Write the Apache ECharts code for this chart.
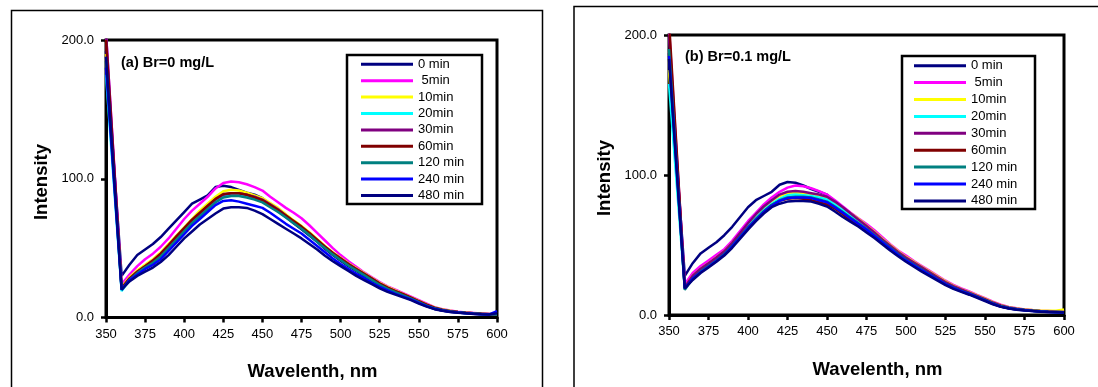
<!DOCTYPE html>
<html><head><meta charset="utf-8">
<script src="https://cdn.jsdelivr.net/npm/echarts@6/dist/echarts.min.js"></script>
<style>html,body{margin:0;padding:0;background:#fff}#c{width:1098px;height:387px}</style>
</head><body><div id="c"></div>
<script>
const wavelengths = [350,355,360,365,370,375,380,385,390,395,400,405,410,415,420,425,430,435,440,445,450,455,460,465,470,475,480,485,490,495,500,505,510,515,520,525,530,535,540,545,550,555,560,565,570,575,580,585,590,595,600];
const seriesNames = ['0 min',' 5min','10min','20min','30min','60min','120 min','240 min','480 min'];
const seriesColors = ['#000080','#FF00FF','#FFFF00','#00FFFF','#800080','#800000','#008080','#0000FF','#000080'];
const yTicks = [0,100,200];
const xTicks = [350,375,400,425,450,475,500,525,550,575,600];

// Panel (a) Br=0 mg/L
const a_0min   = [192,111,30,38,45,49,53,58,64,70,76,82,85,88,94,95,94,92,90,88.5,86,81.5,77,72.5,68,63.5,59,54.5,49.5,45,41,37,33.5,30,26.5,23,20,17.5,15.5,13,10.5,8.2,6.3,5,4.2,3.6,3.1,2.7,2.4,2.2,2];
const a_5min   = [205,114,24,31,37,42,46,51,57,64,71,77,82,87,93,97,98,97.5,96,94,91.5,87,83,79,75.5,71.5,66.5,61,55.5,50,45,40.5,36.5,32.5,29,25.5,22.5,20,17.5,15,12.5,10,7.5,6,5,4.2,3.6,3.2,2.8,2.5,2.3];
const a_10min  = [190,106,22,29,34,38,42,47,53,59,65,71,77,82,87,91,92,91.5,90,88,86,82.5,79,74.5,70,66,61.5,56.5,51.5,47,43,39,35.5,32,28.5,25,22,19.5,17,14.5,12,9.5,7.2,5.8,4.8,4,3.5,3,2.7,2.4,2.2];
const a_20min  = [175,97,19,27,32,36,40,45,51,57,63,69,74,79,84,87,88,88,87,86,84.5,81,77.5,73,68.5,64.5,60,55,50.5,46,42,38,34.5,31,27.5,24,21,18.5,16.3,13.8,11.3,8.8,6.7,5.4,4.5,3.8,3.3,2.9,2.6,2.3,2.1];
const a_30min  = [205,113,21,28,33,37,41,46,52,58,64,70,75,80,85,88.5,89.5,89.5,88.5,87,85,81.5,78,73.5,69,65,60.5,55.5,51,46.5,42.5,38.5,35,31.5,28,24.5,21.5,19,16.7,14.2,11.6,9,6.9,5.5,4.6,3.9,3.4,3,2.7,2.4,2.2];
const a_60min  = [200,110,21,28,33,37,41,46,52,58.5,64.5,70.5,75.5,80.5,85.5,89,89.5,89.5,88.5,86.5,84.5,81,77.5,73.5,69.5,65.5,61,56,51,46.5,42.5,38.5,35,31.5,28,24.5,21.5,19,16.8,14.3,11.7,9.2,7,5.6,4.6,3.9,3.4,3,2.7,2.5,2.5];
const a_120min = [185,102,20,27,32,36,39.5,44,50,56,62,68,73,78,83,86.5,87.5,87.5,86.5,85,83,79.5,76,72,68,64,59.5,54.5,50,45.5,41.5,37.5,34,30.5,27,23.5,20.7,18.3,16,13.6,11,8.6,6.6,5.3,4.4,3.7,3.2,2.8,2.5,2.3,2.1];
const a_240min = [180,100,20,27,31,35,38,42,48,54,60,66,71,76,81,84,84.5,83.5,82,80.5,79,75.5,71.5,67.5,64,60.5,56,51.5,47,42.5,38.5,35,31.5,28.5,25,22,19.5,17,15,13,10.5,8.2,6.3,5,4.2,3.6,3.1,2.7,2.4,2.2,4.5];
const a_480min = [188,104,20,26,30,33,36,40,45,51,57,62,67,71,75,78.5,79.5,79.5,79,77,74.5,71,67.5,64,60.5,57,53,49,44.5,40.5,37,33.5,30,27,24,21,18.5,16.5,14.5,12.5,10,7.8,6,4.8,4,3.4,3,2.6,2.3,2.1,3];

// Panel (b) Br=0.1 mg/L
const b_0min   = [187,107,28,37,44,48,52,57,63,70,77,82,85,88,93,95,94.5,92.5,90,88,86,81,76.5,71.5,67,62.5,58,53,48.5,44,40,36,32.5,29,25.5,22,19.2,17,15,12.8,10.5,8,6,4.8,4,3.5,3,2.7,2.4,2.2,2];
const b_5min   = [205,113,22,30,35,39,43,47,53,60,67,73,79,84,88,91,92.5,92,90.5,88.5,86,82,77.5,73,69,65,60.5,55.5,50.5,46,42.5,38.5,35,31.5,28,24.5,21.5,19,16.8,14.3,12,9.5,7.3,5.8,4.8,4,3.5,3.1,2.8,2.5,2.3];
const b_10min  = [175,98,20,28,33,37,41,45.5,51.5,58,65,71,77,81.5,85,87,87.5,87,86.5,85.5,84,80.5,76.5,72.5,68.5,64,59.5,54.5,50,45.5,41.5,38,34.5,31,27.5,24,21,18.5,16.3,14,11.6,9.2,7,5.6,4.7,4,3.5,3.2,3,3,4];
const b_20min  = [165,92,19,27,32,36,40,44.5,50.5,57,63.5,69.5,75,79.5,83,85.5,86,85.5,85,84,82.5,79,75,71,67,62.5,58,53.5,49,44.5,40.5,37,33.5,30,26.5,23,20.2,17.8,15.7,13.4,11,8.6,6.5,5.2,4.3,3.6,3.1,2.7,2.4,2.2,2];
const b_30min  = [200,110,20,28,33,37,41,45.5,51.5,58.5,65.5,72,77.5,82,86,88,88.5,88,87,86,84.5,81,77,72.5,68,63.5,59,54,49.5,45,41,37.5,34,30.5,27,23.5,20.6,18.2,16,13.7,11.3,8.9,6.8,5.4,4.5,3.8,3.3,2.9,2.6,2.4,2.2];
const b_60min  = [210,115,19,26,31,35,39,43.5,49.5,56,62.5,68.5,74,78.5,81.5,83,83.5,83,82,80.5,79,76,72,67.5,64,60.5,56.5,52,47.5,43.5,39.5,36,32.5,29,25.5,22.3,19.6,17.3,15.3,13,10.7,8.3,6.3,5,4.2,3.5,3,2.6,2.3,2.1,1.9];
const b_120min = [190,104,18,26,31,35,39,43.5,49.5,56,62.5,68.5,74,78.5,82,84,84.5,84.5,84,82.5,81,77.5,73.5,69.5,65.5,61.5,57,52.5,48,43.5,39.5,36,32.5,29,25.5,22.2,19.5,17.2,15.2,13,10.6,8.2,6.2,5,4.1,3.5,3,2.6,2.3,2.1,1.9];
const b_240min = [185,102,19,26,30.5,34.5,38.5,43,49,55.5,62,68,73.5,78,81.5,83.5,84,84,83.5,82,80.5,77,73,69,65,61,56.5,52,47.5,43,39,35.5,32,28.7,25.3,22,19.3,17,15,12.8,10.4,8,6,4.8,4,3.4,2.9,2.5,2.2,2,1.8];
const b_480min = [183,101,19,25,30,34,38,42.5,48,54.5,61,67,72.5,77,79.5,81,81.5,81.5,81,79.5,77.5,74,70,66.5,63,59,55,50.5,46,42,38,34.5,31,27.8,24.5,21.3,18.7,16.5,14.5,12.3,10,7.7,5.8,4.6,3.8,3.2,2.8,2.4,2.1,1.9,1.7];

const panelA = [a_0min,a_5min,a_10min,a_20min,a_30min,a_60min,a_120min,a_240min,a_480min];
const panelB = [b_0min,b_5min,b_10min,b_20min,b_30min,b_60min,b_120min,b_240min,b_480min];

const FONT = '"Liberation Sans", Arial, sans-serif';
const chart = echarts.init(document.getElementById('c'), null, {renderer:'canvas'});

const grids = [
  {left:106, top:40, width:391, height:277.5},
  {left:669, top:35, width:395, height:280}
];

function xAxisOf(i){
  return {type:'value', gridIndex:i, min:xTicks[0], max:xTicks[xTicks.length-1], interval:25,
    axisLine:{show:true, onZero:false, lineStyle:{color:'#000', width:3}},
    axisTick:{show:true, length:5, lineStyle:{color:'#000', width:2.5}},
    axisLabel:{color:'#000', fontSize:13, fontFamily:FONT, margin:10},
    splitLine:{show:false}};
}
function yAxisOf(i){
  return {type:'value', gridIndex:i, min:yTicks[0], max:yTicks[yTicks.length-1], interval:100,
    axisLine:{show:true, lineStyle:{color:'#000', width:3}},
    axisTick:{show:true, length:5, lineStyle:{color:'#000', width:2.5}},
    axisLabel:{color:'#000', fontSize:13, fontFamily:FONT, margin:12, formatter:v=>v.toFixed(1)},
    splitLine:{show:false}};
}

const series = [];
[panelA, panelB].forEach((panel, gi) => {
  panel.forEach((vals, k) => {
    series.push({
      type:'line', name:seriesNames[k], xAxisIndex:gi, yAxisIndex:gi,
      data: wavelengths.map((w, j) => [w, vals[j]]),
      showSymbol:false, symbol:'none', clip:true,
      lineStyle:{color:seriesColors[k], width:2.5},
      itemStyle:{color:seriesColors[k]},
      emphasis:{disabled:true}, animation:false
    });
  });
});

function legendOf(left, top, gap){
  return {show:true, orient:'vertical', left:left, top:top, padding:0, itemGap:gap,
    itemWidth:52, itemHeight:3, icon:'rect', selectedMode:false,
    textStyle:{color:'#000', fontSize:13, fontFamily:FONT, lineHeight:14, padding:[0,0,0,0]},
    data: seriesNames.map((n,k)=>({name:n, icon:'rect', itemStyle:{color:seriesColors[k]}}))};
}

chart.setOption({
  animation:false,
  backgroundColor:'#fff',
  grid: grids.map(g => Object.assign({show:true, borderColor:'#000', borderWidth:3, backgroundColor:'transparent', containLabel:false}, g)),
  xAxis:[xAxisOf(0), xAxisOf(1)],
  yAxis:[yAxisOf(0), yAxisOf(1)],
  legend:[legendOf(361, 57.3, 2.4), legendOf(914, 58.7, 2.9)],
  series: series,
  graphic:[
    {type:'rect', shape:{x:11.5, y:10.5, width:531, height:420}, style:{fill:'none', stroke:'#000', lineWidth:1.5}, z:0},
    {type:'rect', shape:{x:574, y:6.5, width:600, height:420}, style:{fill:'none', stroke:'#000', lineWidth:1.5}, z:0},
    {type:'rect', shape:{x:347, y:55, width:135, height:149}, style:{fill:'none', stroke:'#000', lineWidth:2.5}, z:100},
    {type:'rect', shape:{x:902, y:56, width:133, height:153}, style:{fill:'none', stroke:'#000', lineWidth:2.5}, z:100},
    {type:'text', x:121, y:62.5, style:{text:'(a) Br=0 mg/L', font:'bold 14.5px '+FONT, fill:'#000', verticalAlign:'middle', align:'left'}, z:100},
    {type:'text', x:685, y:57, style:{text:'(b) Br=0.1 mg/L', font:'bold 14.5px '+FONT, fill:'#000', verticalAlign:'middle', align:'left'}, z:100},
    {type:'text', x:41.5, y:182, rotation:Math.PI/2, style:{text:'Intensity', font:'bold 18.5px '+FONT, fill:'#000', verticalAlign:'middle', align:'center'}, z:100},
    {type:'text', x:604.5, y:178, rotation:Math.PI/2, style:{text:'Intensity', font:'bold 18.5px '+FONT, fill:'#000', verticalAlign:'middle', align:'center'}, z:100},
    {type:'text', x:312.5, y:372, style:{text:'Wavelenth, nm', font:'bold 18.5px '+FONT, fill:'#000', verticalAlign:'middle', align:'center'}, z:100},
    {type:'text', x:877.5, y:370, style:{text:'Wavelenth, nm', font:'bold 18.5px '+FONT, fill:'#000', verticalAlign:'middle', align:'center'}, z:100}
  ]
});
</script></body></html>
